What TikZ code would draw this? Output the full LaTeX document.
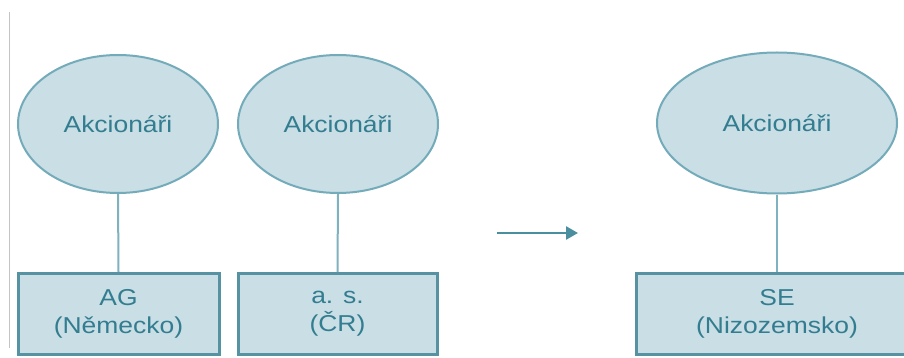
\documentclass[tikz,border=0pt]{standalone}
\usepackage{fontspec}
\setmainfont{Liberation Sans}[FakeStretch=1.15]
\usetikzlibrary{shapes.geometric,arrows.meta}

\definecolor{shapefill}{HTML}{C9DEE5}
\definecolor{ellborder}{HTML}{74ABBA}
\definecolor{boxborder}{HTML}{5792A3}
\definecolor{labeltext}{HTML}{337D90}
\definecolor{connline}{HTML}{7FB2BF}
\definecolor{arrowcol}{HTML}{4A8FA0}
\definecolor{frameline}{HTML}{C4C4C4}

\tikzset{
  holders/.style={ellipse, draw=ellborder, line width=2pt, fill=shapefill,
    minimum width=200pt, minimum height=138pt, inner sep=0pt,
    text=labeltext, font=\fontsize{23}{28}\selectfont},
  company/.style={rectangle, draw=boxborder, line width=3pt, fill=shapefill,
    minimum height=81pt, inner sep=0pt, align=center,
    text=labeltext, font=\fontsize{23}{28}\selectfont},
  conn/.style={draw=connline, line width=2pt},
  flowarrow/.style={draw=arrowcol, line width=2.5pt,
    -{Triangle[length=12pt,width=13pt]}},
}

\begin{document}
\begin{tikzpicture}[x=1pt,y=-1pt]
  % page area
  \clip (0,0) rectangle (904,358);
  \fill[white] (0,0) rectangle (904,358);
  \draw[frameline, line width=1pt] (9,12) -- (9,348);

  % shareholders
  \node[holders] (e1) at (118,124) {Akcionáři};
  \node[holders] (e2) at (338,124) {Akcionáři};
  \node[holders, minimum width=240pt, minimum height=141pt] (e3) at (777,123) {Akcionáři};

  % companies
  \node[company, minimum width=201pt] (b1) at (118.5,314) {AG\\(Německo)};
  \node[company, minimum width=199pt] (b2) at (337.5,314) {a. s.\\(ČR)};
  \node[company, minimum width=282pt] (b3) at (777,314) {SE\\(Nizozemsko)};

  % ownership links
  \draw[conn] (e1.south) -- (b1.north);
  \draw[conn] (e2.south) -- (b2.north);
  \draw[conn] (e3.south) -- (b3.north);

  % transformation arrow
  \coordinate (arrowstart) at (497,233);
  \coordinate (arrowend) at (578,233);
  \draw[flowarrow] (arrowstart) -- (arrowend);
\end{tikzpicture}
\end{document}
